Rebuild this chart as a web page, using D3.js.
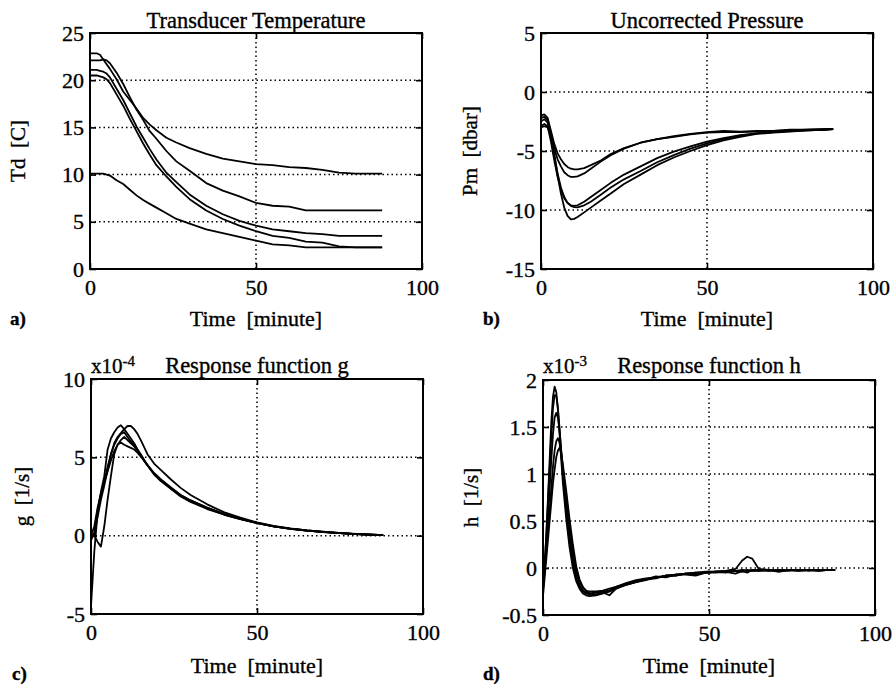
<!DOCTYPE html>
<html>
<head>
<meta charset="utf-8">
<script src="https://cdn.jsdelivr.net/npm/d3@7"></script>
<style>
  body { margin: 0; background: #fff; }
  svg { display: block; }
  text { font-family: "Liberation Serif", "Times New Roman", serif; fill: #000; stroke: #000; stroke-width: 0.35px; }
</style>
</head>
<body>
<svg id="chart" width="893" height="685"></svg>
<script>
// a) transducer temperature [C]
var tdTime = [0, 2, 3, 4, 5, 6, 8, 10, 12, 14, 16, 18, 20, 23, 26, 30, 35, 40, 45, 50, 55, 60, 65, 70, 75, 80, 85, 88];
var tdA = [22.85, 22.85, 22.7, 22.2, 21.7, 21.2, 20.1, 18.8, 17.9, 17.0, 16.0, 15.3, 14.7, 13.9, 13.4, 12.8, 12.2, 11.7, 11.4, 11.1, 11.0, 10.8, 10.7, 10.5, 10.2, 10.1, 10.1, 10.1];
var tdB = [22.1, 22.1, 22.1, 22.2, 22.1, 21.8, 20.8, 19.6, 18.2, 16.9, 15.8, 14.6, 13.8, 12.5, 11.4, 10.4, 9.1, 8.3, 7.7, 7.0, 6.7, 6.6, 6.2, 6.2, 6.2, 6.2, 6.2, 6.2];
var tdC = [21.1, 21.1, 21.0, 20.9, 20.7, 20.3, 19.1, 17.9, 16.5, 15.1, 13.9, 12.7, 11.6, 10.2, 9.2, 7.9, 6.7, 5.8, 5.1, 4.6, 4.2, 4.0, 3.8, 3.7, 3.5, 3.5, 3.5, 3.5];
var tdD = [20.5, 20.5, 20.4, 20.3, 20.1, 19.7, 18.5, 17.3, 15.9, 14.6, 13.3, 12.1, 11.0, 9.8, 8.7, 7.4, 6.2, 5.3, 4.6, 4.0, 3.5, 3.3, 2.9, 2.8, 2.4, 2.3, 2.3, 2.3];
var tdE = [10.1, 10.1, 10.1, 10.1, 10.0, 9.9, 9.4, 9.0, 8.4, 7.8, 7.3, 6.9, 6.5, 5.9, 5.3, 4.8, 4.2, 3.8, 3.4, 3.0, 2.6, 2.5, 2.3, 2.3, 2.3, 2.3, 2.3, 2.3];

// b) uncorrected pressure [dbar]
var pmTime = [0, 1, 2, 3, 4, 5, 6, 7, 8, 9, 10, 11, 13, 15, 18, 21, 25, 30, 35, 40, 45, 50, 55, 60, 65, 70, 75, 80, 85, 88];
var pmA = [-2.0, -1.9, -2.2, -3.3, -4.4, -5.2, -5.7, -6.1, -6.35, -6.5, -6.55, -6.55, -6.45, -6.2, -5.8, -5.25, -4.75, -4.3, -4.0, -3.8, -3.6, -3.45, -3.4, -3.4, -3.35, -3.3, -3.25, -3.2, -3.15, -3.15];
var pmB = [-2.2, -2.1, -2.4, -3.5, -4.8, -5.7, -6.3, -6.8, -7.05, -7.2, -7.2, -7.15, -6.9, -6.5, -5.9, -5.35, -4.8, -4.3, -4.0, -3.75, -3.55, -3.4, -3.3, -3.35, -3.3, -3.3, -3.2, -3.2, -3.15, -3.15];
var pmC = [-2.9, -2.7, -2.9, -4.2, -5.8, -7.2, -8.3, -9.0, -9.4, -9.6, -9.66, -9.6, -9.3, -8.9, -8.3, -7.7, -7.0, -6.3, -5.6, -5.05, -4.6, -4.2, -3.9, -3.65, -3.5, -3.4, -3.3, -3.25, -3.2, -3.15];
var pmD = [-2.5, -2.3, -2.6, -3.9, -5.5, -6.9, -8.1, -8.9, -9.4, -9.65, -9.75, -9.77, -9.6, -9.3, -8.7, -8.1, -7.4, -6.7, -5.95, -5.35, -4.8, -4.35, -4.0, -3.7, -3.5, -3.4, -3.3, -3.25, -3.2, -3.15];
var pmE = [-3.0, -2.9, -3.0, -3.8, -5.2, -7.0, -8.6, -9.8, -10.5, -10.8, -10.75, -10.6, -10.2, -9.8, -9.2, -8.6, -7.8, -7.0, -6.2, -5.55, -5.0, -4.5, -4.1, -3.8, -3.55, -3.45, -3.35, -3.25, -3.2, -3.15];

// c) response function g [1/s], x10^-4
var gTime = [0, 1, 2, 3, 4, 5, 6, 7, 8, 9, 10, 11, 12, 13, 14, 15, 17, 19, 21, 24, 27, 30, 35, 40, 45, 50, 55, 60, 65, 70, 75, 80, 85, 88];
var gA = [-0.3, 0.2, 1.6, 2.8, 3.8, 5.5, 6.2, 6.6, 6.9, 7.05, 6.8, 6.5, 6.2, 5.9, 5.5, 5.1, 4.5, 4.0, 3.6, 3.1, 2.6, 2.25, 1.8, 1.4, 1.08, 0.82, 0.6, 0.45, 0.33, 0.24, 0.16, 0.1, 0.06, 0.03];
var gB = [0.0, 0.1, 1.2, 2.3, 3.2, 4.2, 5.2, 5.9, 6.3, 6.55, 6.8, 7.0, 7.0, 6.8, 6.5, 6.1, 5.2, 4.6, 4.2, 3.6, 3.05, 2.6, 2.0, 1.5, 1.15, 0.85, 0.62, 0.46, 0.34, 0.25, 0.17, 0.11, 0.06, 0.03];
var gC = [-4.5, -1.0, 1.5, 2.6, 3.5, 4.4, 5.2, 5.8, 6.2, 6.5, 6.6, 6.3, 6.0, 5.8, 5.5, 5.2, 4.5, 3.9, 3.5, 3.0, 2.5, 2.15, 1.7, 1.35, 1.05, 0.8, 0.6, 0.44, 0.32, 0.23, 0.16, 0.1, 0.05, 0.03];
var gD = [0.0, 0.6, 1.8, 2.7, 3.4, 4.1, 4.8, 5.4, 5.8, 6.1, 6.3, 6.1, 5.9, 5.7, 5.4, 5.1, 4.5, 3.95, 3.5, 3.0, 2.55, 2.2, 1.75, 1.35, 1.05, 0.8, 0.6, 0.44, 0.32, 0.23, 0.16, 0.1, 0.05, 0.03];
var gE = [0.1, 0.0, -0.4, -0.7, 0.6, 2.3, 3.8, 5.2, 5.8, 5.95, 5.8, 5.7, 5.6, 5.5, 5.3, 5.05, 4.5, 3.95, 3.55, 3.05, 2.6, 2.25, 1.78, 1.38, 1.07, 0.81, 0.6, 0.45, 0.33, 0.24, 0.16, 0.1, 0.06, 0.03];

// d) response function h [1/s], x10^-3
var hTime = [0, 0.5, 1, 1.5, 2, 2.5, 3, 3.5, 4, 4.5, 5, 5.5, 6, 7, 8, 9, 10, 11, 12, 13, 14, 16, 18, 20, 22, 25, 28, 31, 34, 37, 40, 43, 46, 49, 52, 55, 58, 60, 61.5, 63, 65, 68, 71, 74, 77, 80, 83, 86, 88];
var hA = [-0.25, 0.0, 0.35, 0.75, 1.15, 1.55, 1.82, 1.93, 1.87, 1.68, 1.42, 1.15, 0.9, 0.52, 0.22, 0.0, -0.14, -0.22, -0.27, -0.29, -0.3, -0.29, -0.27, -0.25, -0.21, -0.18, -0.15, -0.12, -0.11, -0.08, -0.08, -0.06, -0.06, -0.05, -0.04, -0.04, -0.03, -0.03, -0.02, -0.03, -0.02, -0.03, -0.02, -0.02, -0.03, -0.02, -0.02, -0.02, -0.02];
var hB = [-0.15, 0.05, 0.35, 0.7, 1.05, 1.4, 1.7, 1.84, 1.83, 1.7, 1.48, 1.22, 0.98, 0.6, 0.28, 0.05, -0.1, -0.2, -0.25, -0.27, -0.27, -0.26, -0.25, -0.24, -0.2, -0.17, -0.14, -0.12, -0.1, -0.09, -0.07, -0.06, -0.05, -0.04, -0.04, -0.03, -0.01, 0.08, 0.12, 0.1, -0.01, -0.02, -0.03, -0.02, -0.02, -0.02, -0.03, -0.02, -0.02];
var hC = [-0.2, -0.05, 0.2, 0.5, 0.85, 1.15, 1.42, 1.6, 1.65, 1.6, 1.45, 1.25, 1.05, 0.68, 0.35, 0.1, -0.07, -0.18, -0.24, -0.27, -0.28, -0.28, -0.26, -0.29, -0.22, -0.17, -0.14, -0.12, -0.09, -0.1, -0.07, -0.07, -0.08, -0.05, -0.05, -0.04, -0.06, -0.03, -0.05, -0.02, -0.03, -0.02, -0.04, -0.02, -0.03, -0.02, -0.03, -0.02, -0.02];
var hD = [-0.05, 0.05, 0.2, 0.4, 0.6, 0.85, 1.08, 1.25, 1.35, 1.38, 1.33, 1.2, 1.05, 0.75, 0.45, 0.18, -0.02, -0.14, -0.21, -0.24, -0.25, -0.25, -0.24, -0.22, -0.2, -0.16, -0.13, -0.11, -0.1, -0.08, -0.07, -0.06, -0.05, -0.05, -0.04, -0.03, -0.03, -0.02, -0.03, -0.02, -0.02, -0.03, -0.02, -0.02, -0.02, -0.02, -0.02, -0.02, -0.02];
var hE = [-0.3, -0.1, 0.1, 0.3, 0.5, 0.7, 0.9, 1.05, 1.18, 1.25, 1.28, 1.22, 1.1, 0.82, 0.52, 0.25, 0.02, -0.12, -0.2, -0.25, -0.27, -0.28, -0.27, -0.25, -0.22, -0.18, -0.15, -0.13, -0.1, -0.09, -0.08, -0.06, -0.07, -0.05, -0.04, -0.05, -0.03, -0.04, -0.03, -0.03, -0.03, -0.02, -0.03, -0.03, -0.02, -0.03, -0.02, -0.02, -0.02];

var timeTicks = [0, 50, 100];
var tdTicks = [0, 5, 10, 15, 20, 25];
var pmTicks = [-15, -10, -5, 0, 5];
var gTicks = [-5, 0, 5, 10];
var hTicks = [-0.5, 0, 0.5, 1, 1.5, 2];

var svg = d3.select("#chart");
svg.append("rect").attr("width", 893).attr("height", 685).attr("fill", "#fff");

var panels = [
  { box: [90, 422, 33, 269], time: tdTime, series: [tdA, tdB, tdC, tdD, tdE], yTicks: tdTicks,
    title: "Transducer Temperature", titleY: 28, ylabel: "Td\u00a0 [C]", ylabelX: 25, xlabelY: 326,
    tag: "a)", tagX: 10, tagY: 325 },
  { box: [541, 873, 33, 269], time: pmTime, series: [pmA, pmB, pmC, pmD, pmE], yTicks: pmTicks,
    title: "Uncorrected Pressure", titleY: 28, ylabel: "Pm\u00a0 [dbar]", ylabelX: 477, xlabelY: 326,
    tag: "b)", tagX: 483, tagY: 325 },
  { box: [91, 423, 379, 614], time: gTime, series: [gA, gB, gC, gD, gE], yTicks: gTicks,
    title: "Response function g", titleY: 373, ylabel: "g\u00a0 [1/s]", ylabelX: 29, xlabelY: 673,
    tag: "c)", tagX: 12, tagY: 680, expo: "-4" },
  { box: [543, 875, 380, 615], time: hTime, series: [hA, hB, hC, hD, hE], yTicks: hTicks,
    title: "Response function h", titleY: 373, ylabel: "h\u00a0 [1/s]", ylabelX: 478, xlabelY: 673,
    tag: "d)", tagX: 483, tagY: 680, expo: "-3" }
];

panels.forEach(drawPanel);

function drawPanel(p) {
  var left = p.box[0], right = p.box[1], top = p.box[2], bottom = p.box[3];
  var x = d3.scaleLinear().domain([0, 100]).range([left, right]);
  var y = d3.scaleLinear().domain(d3.extent(p.yTicks)).range([bottom, top]);
  var g = svg.append("g");

  // dotted grid on the inner ticks
  g.selectAll("line.gx")
    .data(timeTicks.slice(1, -1))
    .enter().append("line")
    .attr("x1", function (d) { return x(d); })
    .attr("x2", function (d) { return x(d); })
    .attr("y1", top).attr("y2", bottom)
    .attr("stroke", "#000").attr("stroke-width", 1.5)
    .attr("stroke-dasharray", "1.5,3");
  g.selectAll("line.gy")
    .data(p.yTicks.slice(1, -1))
    .enter().append("line")
    .attr("y1", function (d) { return y(d); })
    .attr("y2", function (d) { return y(d); })
    .attr("x1", left).attr("x2", right)
    .attr("stroke", "#000").attr("stroke-width", 1.5)
    .attr("stroke-dasharray", "1.5,3");

  // curves
  var line = d3.line()
    .x(function (d) { return x(d[0]); })
    .y(function (d) { return y(d[1]); });
  p.series.forEach(function (s) {
    g.append("path")
      .datum(p.time.map(function (t, i) { return [t, s[i]]; }))
      .attr("d", line)
      .attr("fill", "none")
      .attr("stroke", "#000")
      .attr("stroke-width", 1.8)
      .attr("stroke-linejoin", "round");
  });

  // axes with inward ticks
  var fmt = function (d) { return String(d); };
  g.append("g").attr("transform", "translate(0," + bottom + ")")
    .call(d3.axisBottom(x).tickValues(timeTicks).tickSize(-6).tickPadding(10).tickFormat(fmt));
  g.append("g").attr("transform", "translate(0," + top + ")")
    .call(d3.axisTop(x).tickValues(timeTicks).tickSize(-6).tickFormat(""));
  g.append("g").attr("transform", "translate(" + left + ",0)")
    .call(d3.axisLeft(y).tickValues(p.yTicks).tickSize(-6).tickPadding(6).tickFormat(fmt));
  g.append("g").attr("transform", "translate(" + right + ",0)")
    .call(d3.axisRight(y).tickValues(p.yTicks).tickSize(-6).tickFormat(""));
  g.selectAll(".domain").remove();
  g.selectAll(".tick line").attr("stroke", "#000").attr("stroke-width", 1.6);
  g.selectAll(".tick text").attr("font-size", 22).attr("fill", "#000");

  // frame
  g.append("rect")
    .attr("x", left).attr("y", top)
    .attr("width", right - left).attr("height", bottom - top)
    .attr("fill", "none").attr("stroke", "#000").attr("stroke-width", 2);

  var cx = (left + right) / 2;
  g.append("text").attr("x", cx).attr("y", p.titleY)
    .attr("text-anchor", "middle").attr("font-size", 22.5).text(p.title);
  if (p.expo) {
    var t = g.append("text").attr("x", left).attr("y", p.titleY).attr("font-size", 21);
    t.append("tspan").text("x10");
    t.append("tspan").attr("dy", -7).attr("font-size", 15).text(p.expo);
  }
  g.append("text").attr("x", cx).attr("y", p.xlabelY)
    .attr("text-anchor", "middle").attr("font-size", 22).text("Time\u00a0 [minute]");
  g.append("text")
    .attr("transform", "translate(" + p.ylabelX + "," + ((top + bottom) / 2) + ") rotate(-90)")
    .attr("text-anchor", "middle").attr("font-size", 21).text(p.ylabel);
  g.append("text").attr("x", p.tagX).attr("y", p.tagY)
    .attr("font-size", 19).attr("font-weight", "bold").text(p.tag);
}
</script>
</body>
</html>
